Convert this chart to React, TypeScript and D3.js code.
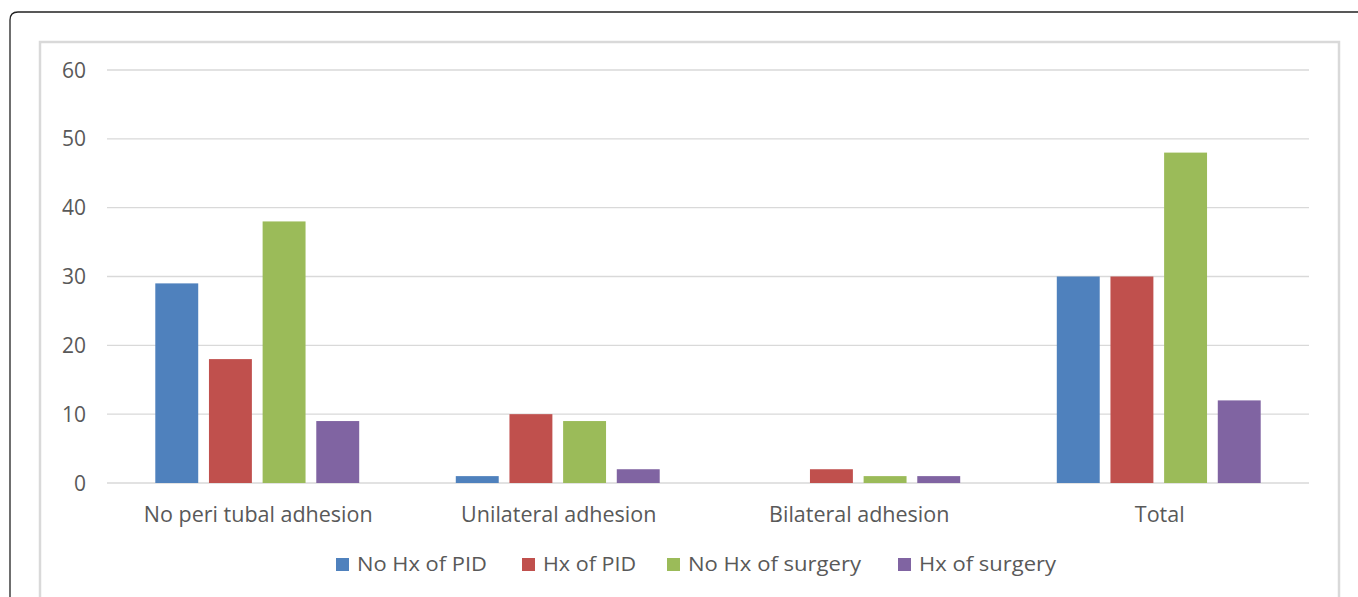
import React from "react";
import * as d3 from "d3";

const categories = ["No peri tubal adhesion", "Unilateral adhesion", "Bilateral adhesion", "Total"];
const seriesNames = ["No Hx of PID", "Hx of PID", "No Hx of surgery", "Hx of surgery"];
const noHxPID = [29, 1, 0, 30];
const hxPID = [18, 10, 2, 30];
const noHxSurgery = [38, 9, 1, 48];
const hxSurgery = [9, 2, 1, 12];
const yTicks = [0, 10, 20, 30, 40, 50, 60];
const colors = ["#4f81bd", "#c0504d", "#9bbb59", "#8064a2"];

const seriesValues = [noHxPID, hxPID, noHxSurgery, hxSurgery];

export default function App() {
  const W = 1358, H = 597;
  const left = 107, right = 1309, top = 70, bottom = 483;
  const x0 = d3.scaleBand<string>().domain(categories).range([left, right]).paddingInner(0).paddingOuter(0);
  const x1 = d3.scaleBand<string>().domain(seriesNames).range([0, x0.bandwidth()]).paddingInner(0.2).paddingOuter(0.9);
  const y = d3.scaleLinear().domain([0, 60]).range([bottom, top]);
  const font = "'Open Sans', 'Segoe UI', sans-serif";
  const legendX = [336, 522, 667, 898];
  const legendLen = [130, 93, 173, 137];

  return (
    <svg width={W} height={H} style={{ position: "absolute", left: 0, top: 0, background: "#fff" }}>
      <path d={`M10,${H + 10} L10,20 Q10,12 18,12 L${W + 10},12`} fill="none" stroke="#222" strokeWidth={1.3} />
      <rect x={40} y={42} width={1299} height={H} fill="#fff" stroke="#d9d9d9" strokeWidth={2.5} />
      {yTicks.map((t) => (
        <g key={t}>
          <line x1={left} x2={right} y1={y(t)} y2={y(t)} stroke="#d9d9d9" strokeWidth={1.3} />
          <text x={86} y={y(t)} dy="0.36em" textAnchor="end" fontFamily={font} fontSize={21} fill="#595959">{t}</text>
        </g>
      ))}
      {categories.map((c, ci) => (
        <g key={c}>
          {seriesNames.map((s, si) => {
            const v = seriesValues[si][ci];
            const bx = (x0(c) as number) + (x1(s) as number);
            return <rect key={s} x={bx} y={y(v)} width={x1.bandwidth()} height={bottom - y(v)} fill={colors[si]} />;
          })}
          <text x={(x0(c) as number) + x0.bandwidth() / 2 + 1} y={521.5} textAnchor="middle" fontFamily={font} fontSize={21.5} fill="#595959">{c}</text>
        </g>
      ))}
      {seriesNames.map((s, si) => (
        <g key={s}>
          <rect x={legendX[si]} y={558} width={13} height={13} fill={colors[si]} />
          <text x={legendX[si] + 21} y={571} fontFamily={font} fontSize={19.5} fill="#595959" textLength={legendLen[si]} lengthAdjust="spacingAndGlyphs">{s}</text>
        </g>
      ))}
    </svg>
  );
}
